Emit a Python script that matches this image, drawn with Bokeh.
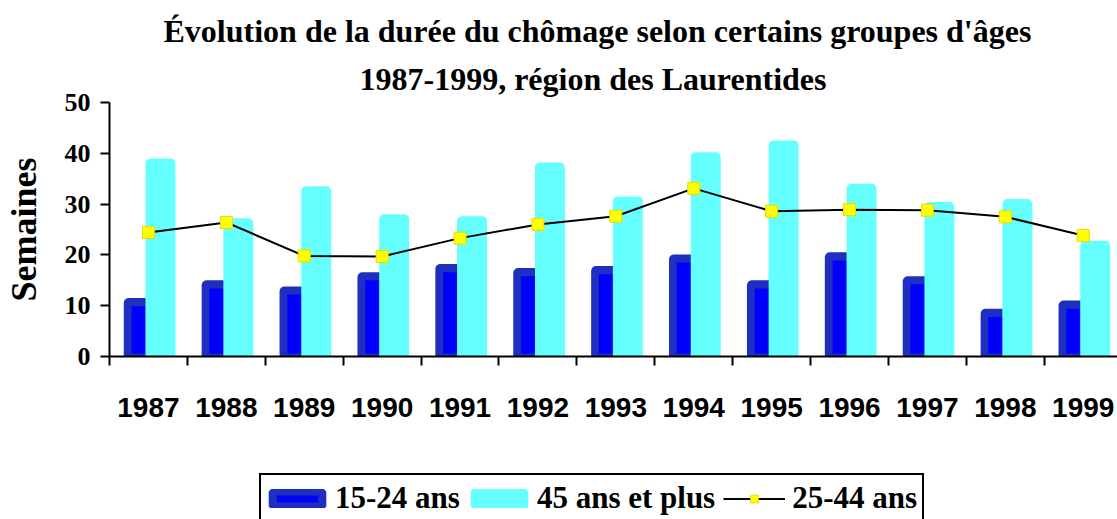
from bokeh.plotting import figure
from bokeh.layouts import column
from bokeh.models import Range1d, FixedTicker, Title, Legend, LegendItem
from bokeh.embed import file_html
from bokeh.resources import INLINE

# ---- data -------------------------------------------------------------
annees = ["1987", "1988", "1989", "1990", "1991", "1992", "1993",
          "1994", "1995", "1996", "1997", "1998", "1999"]
ans_15_24 = [11.5, 15.0, 13.8, 16.6, 18.2, 17.4, 17.8, 20.1, 15.0, 20.5, 15.8, 9.4, 11.0]
ans_45_plus = [39.0, 27.2, 33.5, 28.0, 27.6, 38.2, 31.5, 40.2, 42.5, 34.0, 30.4, 31.0, 22.8]
ans_25_44 = [24.4, 26.4, 19.8, 19.7, 23.3, 26.0, 27.6, 33.1, 28.6, 28.9, 28.8, 27.5, 23.8]
y_ticks = [0, 10, 20, 30, 40, 50]

titre_1 = "Évolution de la durée du chômage selon certains groupes d'âges"
titre_2 = "1987-1999, région des Laurentides"
axe_y = "Semaines"
noms = ["15-24 ans", "45 ans et plus", "25-44 ans"]

# ---- styles -----------------------------------------------------------
CYAN = "#66FFFF"
DARK = "#1F2FBF"
BLUE = "#0000FF"
YELLOW = "#FFFF00"
SERIF = "Liberation Serif"
SANS = "Liberation Sans"

x = [i + 1 for i in range(len(annees))]
x_dark = [v - 0.1245 for v in x]
x_inner = [v - 0.109 for v in x]
x_cyan = [v + 0.154 for v in x]
inner_top = [v - 1.6 for v in ans_15_24]

p = figure(width=1117, height=467,
           x_range=Range1d(0.5, 13.44), y_range=Range1d(0, 50),
           output_backend="svg", toolbar_location=None, title_location=None,
           min_border_left=109, min_border_right=0,
           min_border_top=102, min_border_bottom=111)
p.outline_line_color = None
p.xgrid.visible = False
p.ygrid.visible = False
p.background_fill_color = "white"
p.border_fill_color = "white"

# bars 15-24 (dark outer + bright face)
p.vbar(x=x_dark, top=ans_15_24, bottom=0, width=0.385,
       fill_color=DARK, line_color=None, border_radius=(5, 0, 0, 0))
p.vbar(x=x_inner, top=inner_top, bottom=0.6, width=0.218,
       fill_color=BLUE, line_color=None)
# bars 45+
p.vbar(x=x_cyan, top=ans_45_plus, bottom=0, width=0.385,
       fill_color=CYAN, line_color=None, border_radius=(5, 5, 0, 0))
# line 25-44
p.line(x, ans_25_44, line_color="black", line_width=2)
p.scatter(x, ans_25_44, marker="square", size=12,
          fill_color=YELLOW, line_color="#E6DC00", line_width=1)

# ---- axes -------------------------------------------------------------
xa = p.xaxis[0]
xa.ticker = FixedTicker(ticks=x, minor_ticks=[i + 0.5 for i in range(len(annees) + 1)])
xa.major_label_overrides = {xi: a for xi, a in zip(x, annees)}
xa.major_tick_out = 0
xa.major_tick_in = 0
xa.minor_tick_out = 9
xa.minor_tick_in = 0
xa.minor_tick_line_width = 2
xa.minor_tick_line_color = "black"
xa.axis_line_width = 2
xa.axis_line_color = "black"
xa.major_label_text_font = SANS
xa.major_label_text_font_style = "bold"
xa.major_label_text_font_size = "28px"
xa.major_label_text_color = "black"
xa.major_label_standoff = 32

ya = p.yaxis[0]
ya.ticker = FixedTicker(ticks=y_ticks)
ya.major_tick_out = 9
ya.major_tick_in = 0
ya.minor_tick_out = 0
ya.minor_tick_in = 0
ya.major_tick_line_width = 2
ya.major_tick_line_color = "black"
ya.axis_line_width = 2
ya.axis_line_color = "black"
ya.major_label_text_font = SERIF
ya.major_label_text_font_style = "bold"
ya.major_label_text_font_size = "26px"
ya.major_label_text_color = "black"
ya.major_label_standoff = 10
ya.axis_label = axe_y
ya.axis_label_text_font = SERIF
ya.axis_label_text_font_style = "bold"
ya.axis_label_text_font_size = "36px"
ya.axis_label_text_color = "black"
ya.axis_label_standoff = 18

# ---- titles -----------------------------------------------------------
t2 = Title(text=titre_2, align="left", offset=250, standoff=11,
           text_font=SERIF, text_font_style="bold", text_font_size="32px",
           text_color="black")
t1 = Title(text=titre_1, align="left", offset=54, standoff=9,
           text_font=SERIF, text_font_style="bold", text_font_size="32px",
           text_color="black")
p.add_layout(t2, "above")
p.add_layout(t1, "above")

# ---- legend strip (second figure; proxy renderers with no drawable points) --
q = figure(width=1117, height=52, x_range=Range1d(0.5, 13.44), y_range=Range1d(0, 50),
           x_axis_type=None, y_axis_type=None,
           output_backend="svg", toolbar_location=None, title_location=None,
           min_border_left=0, min_border_right=0, min_border_top=0, min_border_bottom=0)
q.outline_line_color = None
q.background_fill_color = "white"
q.border_fill_color = "white"

x_proxy = [float("nan") for _ in x]
r_dark = q.vbar(x=x_proxy, top=ans_15_24, bottom=0, width=0.3,
                fill_color=BLUE, line_color=DARK, line_width=8)
r_cyan = q.vbar(x=x_proxy, top=ans_45_plus, bottom=0, width=0.3,
                fill_color=CYAN, line_color=CYAN, line_width=8)
r_line = q.line(x_proxy, ans_25_44, line_color="black", line_width=2)
r_mark = q.scatter(x_proxy, ans_25_44, marker="square", size=12,
                   fill_color=YELLOW, line_color="#E6DC00", line_width=1)

legend = Legend(items=[
    LegendItem(label=noms[0], renderers=[r_dark]),
    LegendItem(label=noms[1], renderers=[r_cyan]),
    LegendItem(label=noms[2], renderers=[r_line, r_mark]),
], orientation="horizontal", location=(150, -4),
    glyph_width=62, glyph_height=19, label_standoff=7, spacing=8,
    padding=5, margin=0,
    border_line_color="black", border_line_width=2, border_line_alpha=1.0,
    background_fill_color="white", background_fill_alpha=1.0,
    label_text_font=SERIF, label_text_font_style="bold",
    label_text_font_size="31px", label_text_color="black")
q.add_layout(legend, "center")

page = column(p, q, spacing=0)
open("out.html", "w").write(file_html(page, INLINE))
